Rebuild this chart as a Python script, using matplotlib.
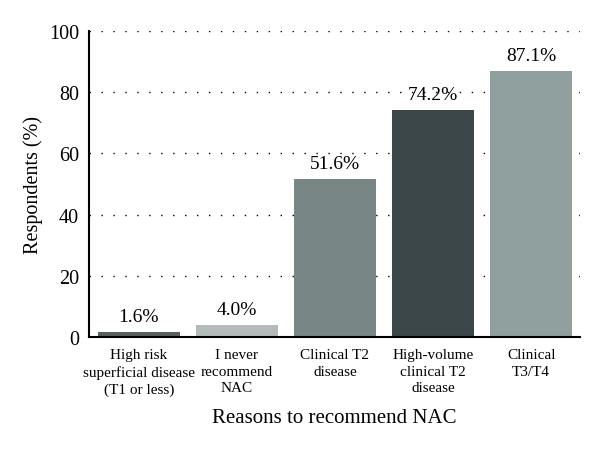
import matplotlib

matplotlib.use("Agg")
import matplotlib.pyplot as plt
import numpy as np

CATEGORIES = [
    "High risk\nsuperficial disease\n(T1 or less)",
    "I never\nrecommend\nNAC",
    "Clinical T2\ndisease",
    "High-volume\nclinical T2\ndisease",
    "Clinical\nT3/T4",
]
VALUES = [1.6, 4.0, 51.6, 74.2, 87.1]
LABELS = ["1.6%", "4.0%", "51.6%", "74.2%", "87.1%"]
COLORS = ["#5a5f60", "#b3bcbb", "#788786", "#3c4749", "#8fa09f"]

plt.rcParams["font.family"] = ["Liberation Serif", "DejaVu Serif"]

fig = plt.figure(figsize=(6, 4.52), dpi=100)
ax = fig.add_axes([0.148, 0.252, 0.819, 0.677])

x = np.arange(len(CATEGORIES))
ax.bar(x, VALUES, width=0.84, color=COLORS, zorder=2)
for xi, v, lab in zip(x, VALUES, LABELS):
    ax.text(xi, v + 2.3, lab, ha="center", va="bottom", fontsize=14)

ax.set_xlim(-0.51, 4.5)
ax.set_ylim(0, 100)
ax.set_yticks([0, 20, 40, 60, 80, 100])
ax.set_xticks(x)
ax.set_xticklabels(CATEGORIES, fontsize=11, linespacing=1.35)
ax.tick_params(axis="both", length=0)
ax.tick_params(axis="y", labelsize=14.5, pad=7)
ax.tick_params(axis="x", pad=8)
ax.yaxis.grid(True, color="black", linewidth=1, linestyle=(0, (1, 7.6)), zorder=0)
ax.set_axisbelow(True)
for s in ["top", "right"]:
    ax.spines[s].set_visible(False)
ax.spines["left"].set_linewidth(1.5)
ax.spines["bottom"].set_linewidth(1.5)

ax.set_ylabel("Respondents (%)", fontsize=14.5, labelpad=4)
ax.set_xlabel("Reasons to recommend NAC", fontsize=15, labelpad=9)

fig.savefig("out.png", dpi=100)
